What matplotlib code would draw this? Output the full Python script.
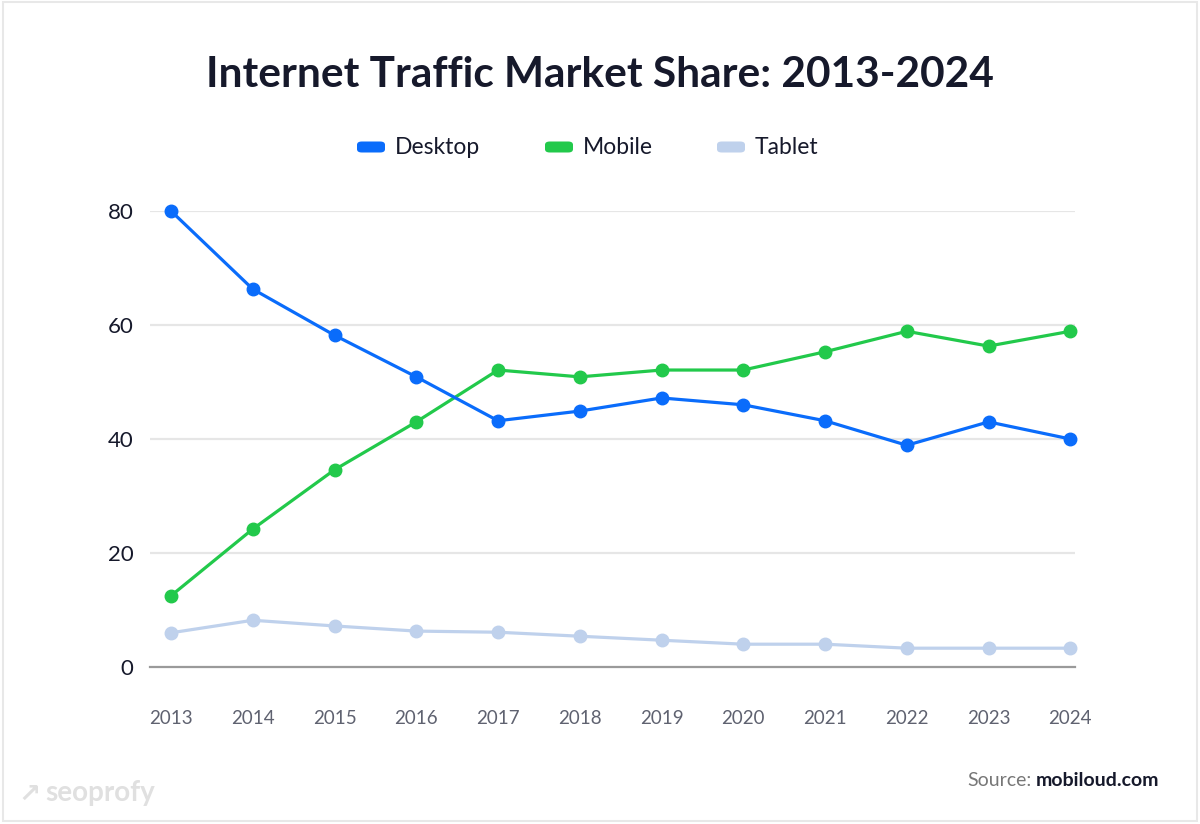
import matplotlib
matplotlib.use("Agg")
import matplotlib.pyplot as plt
from matplotlib.patches import FancyBboxPatch, Rectangle

years = ["2013", "2014", "2015", "2016", "2017", "2018", "2019", "2020", "2021", "2022", "2023", "2024"]
desktop = [80.0, 66.3, 58.2, 50.9, 43.2, 44.9, 47.2, 46.0, 43.2, 38.9, 43.0, 40.0]
mobile = [12.5, 24.2, 34.6, 43.0, 52.1, 50.9, 52.1, 52.1, 55.3, 58.9, 56.3, 58.9]
tablet = [6.0, 8.2, 7.2, 6.3, 6.1, 5.4, 4.7, 4.0, 4.0, 3.3, 3.3, 3.3]
series_names = ["Desktop", "Mobile", "Tablet"]
y_ticks = [0, 20, 40, 60, 80]

colors = ["#0a6cfb", "#22c94b", "#bfd1ec"]
dark = "#16192b"

plt.rcParams['font.family'] = ['Lato', 'DejaVu Sans']

fig = plt.figure(figsize=(12, 8.24), dpi=100)
fig.patch.set_facecolor("white")

ax = fig.add_axes([0.125, 1 - 667 / 824, 0.771, (667 - 211) / 824])
x = list(range(len(years)))

for vals, c in zip([tablet, mobile, desktop], [colors[2], colors[1], colors[0]]):
    ax.plot(x, vals, color=c, lw=2.3, marker="o", markersize=9, clip_on=False, zorder=3)

ax.set_ylim(0, 80)
ax.set_xlim(-0.257, 11.06)
ax.set_yticks(y_ticks)
ax.set_yticklabels([str(v) for v in y_ticks], fontsize=16, color=dark)
ax.set_xticks(x)
ax.set_xticklabels(years, fontsize=13.5, color="#5f6270")
ax.tick_params(axis="y", length=0, pad=12)
ax.tick_params(axis="x", length=0, pad=31)
for s in ["top", "right", "left"]:
    ax.spines[s].set_visible(False)
ax.spines["bottom"].set_color("#9a9a9a")
ax.spines["bottom"].set_linewidth(1.6)
ax.grid(axis="y", color="#e6e6e6", lw=1.6)
ax.set_axisbelow(True)
for gl in ax.get_ygridlines()[:1]:
    gl.set_visible(False)

# Title
fig.text(0.5, 1 - 75 / 824, "Internet Traffic Market Share: 2013-2024", ha="center", va="center",
         fontsize=30.5, fontweight="bold", color=dark)

# Legend
leg_x = [357, 545, 717]
for name, c, lx in zip(series_names, colors, leg_x):
    w, h = 28 / 1200, 11 / 824
    box = FancyBboxPatch((lx / 1200, 1 - 147 / 824 - h / 2), w, h,
                         boxstyle="round,pad=0,rounding_size=0.004",
                         transform=fig.transFigure, facecolor=c, edgecolor="none")
    fig.patches.append(box)
    fig.text((lx + 38) / 1200, 1 - 147 / 824, name, ha="left", va="center",
             fontsize=16.5, color=dark)

# Source
t2 = fig.text(1159 / 1200, 1 - 780 / 824, "mobiloud.com", ha="right", va="center",
              fontsize=14, fontweight="bold", color=dark)
fig.canvas.draw()
bb = t2.get_window_extent()
fig.text((bb.x0 - 4) / 1200, 1 - 780 / 824, "Source:", ha="right", va="center",
         fontsize=14, color="#777777")

# Watermark
fig.text(18 / 1200, 1 - 795 / 824, "\u2197", ha="left", va="center", fontsize=19,
         color="#e0e0e0", family="DejaVu Sans", fontweight="bold")
fig.text(45 / 1200, 1 - 793 / 824, "seoprofy", ha="left", va="center", fontsize=20,
         color="#e0e0e0", fontweight="bold")

# Border
fig.patches.append(Rectangle((3 / 1200, 3 / 824), 1194 / 1200, 819 / 824, transform=fig.transFigure,
                             fill=False, edgecolor="#e8e8e8", lw=1.5))

fig.savefig("out.png", dpi=100, facecolor="white")
